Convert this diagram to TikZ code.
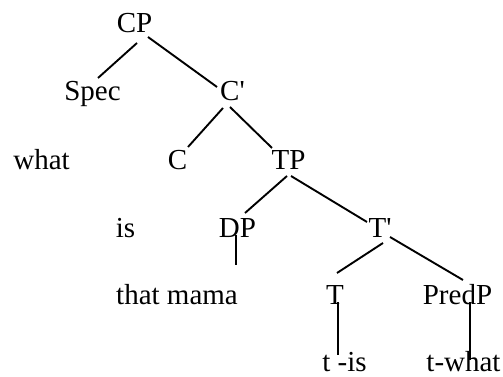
\documentclass[tikz,border=0pt]{standalone}
\usepackage{fontspec}
\setmainfont{Liberation Serif}[Ligatures=TeXOff]
\begin{document}
\begin{tikzpicture}[x=1pt,y=1pt,
  lbl/.style={anchor=base,inner sep=0pt,font=\fontsize{29}{31}\selectfont},
  edge/.style={line width=1.9pt}]
\useasboundingbox (0,0) rectangle (503,377);
\node[lbl] (CP)   at (134.5,344) {CP};
\node[lbl] (Spec) at (92.5,276) {Spec};
\node[lbl] (Cb)   at (232.5,276) {C'};
\node[lbl] (what) at (41.5,207) {what};
\node[lbl] (C)    at (177.5,207) {C};
\node[lbl] (TP)   at (288.5,207) {TP};
\node[lbl] (is)   at (125.5,139) {is};
\node[lbl] (DP)   at (237.5,139) {DP};
\node[lbl] (Tb)   at (380,139) {T'};
\node[lbl] (tm)   at (177,72) {that mama};
\node[lbl] (T)    at (335,72) {T};
\node[lbl] (PredP) at (457.5,72) {PredP};
\node[lbl] (tis)  at (344.5,5) {t -is};
\node[lbl] (tw)   at (463.5,5) {t-what};
\draw[edge] ([shift={(2.5,-10)}]CP.base) -- ([shift={(5.5,23)}]Spec.base);
\draw[edge] ([shift={(13.5,-4)}]CP.base) -- ([shift={(-15.5,14)}]Cb.base);
\draw[edge] ([shift={(-9.5,-7)}]Cb.base) -- ([shift={(10.5,23)}]C.base);
\draw[edge] ([shift={(-2.5,-6)}]Cb.base) -- ([shift={(-16.5,22)}]TP.base);
\draw[edge] ([shift={(-1.5,-6)}]TP.base) -- ([shift={(7.5,25)}]DP.base);
\draw[edge] ([shift={(2.5,-6)}]TP.base) -- ([shift={(-13,16)}]Tb.base);
\draw[edge] ([shift={(-1.5,3)}]DP.base) -- ([shift={(59,40)}]tm.base);
\draw[edge] ([shift={(3,-5)}]Tb.base) -- ([shift={(2,32)}]T.base);
\draw[edge] ([shift={(10,1)}]Tb.base) -- ([shift={(5.5,25)}]PredP.base);
\draw[edge] ([shift={(3,3)}]T.base) -- ([shift={(-6.5,17)}]tis.base);
\draw[edge] ([shift={(12.5,3)}]PredP.base) -- ([shift={(6.5,12)}]tw.base);
\end{tikzpicture}
\end{document}
